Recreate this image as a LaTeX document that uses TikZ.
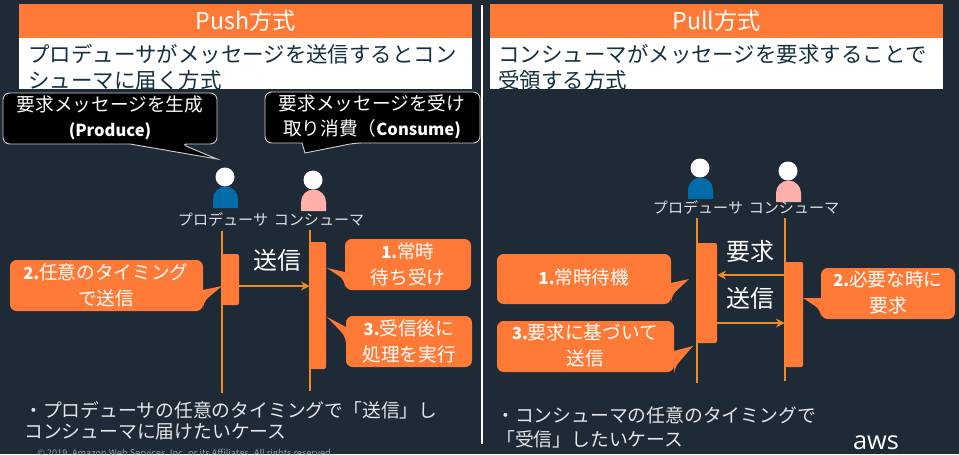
\documentclass[tikz,border=0pt]{standalone}
\usepackage{fontspec}
\setmainfont{Noto Sans CJK JP}
\newfontfamily\awsfont{Open Sans}
\usetikzlibrary{arrows.meta}
\definecolor{bgc}{HTML}{1F2A37}
\definecolor{orangeh}{HTML}{FE7A36}
\definecolor{lifec}{HTML}{F58A1F}
\definecolor{inkc}{HTML}{16303F}
\definecolor{blueb}{HTML}{006CA8}
\definecolor{pinkb}{HTML}{FFB0AB}
% name, style, x1,y1,x2,y2, text
\newcommand{\boxat}[7]{\node[#2,minimum width={(#5-#3)*0.75pt},minimum height={(#6-#4)*0.75pt}] (#1) at ({(#3+#5)/2},{(#4+#6)/2}) {#7};}
\newcommand{\latinb}[1]{{\fontsize{12.4}{19.5}\selectfont\bfseries #1}}
\tikzset{
 x=0.75pt,y=-0.75pt,
 header/.style={fill=orangeh,inner sep=0pt,text=white,font=\fontsize{17.4}{17.4}\selectfont},
 panel/.style={fill=white,inner sep=0pt},
 paneltext/.style={anchor=west,inner sep=0pt,text=inkc,font=\fontsize{16.1}{16.1}\selectfont},
 bubbleblack/.style={fill=black,draw=white!80!black,line width=0.7pt},
 bubbleorange/.style={fill=orangeh},
 bubbletext/.style={inner sep=0pt,align=center,text=white,font=\fontsize{14}{19}\selectfont},
 bubbletextb/.style={inner sep=0pt,align=center,text=white,font=\fontsize{14}{19.5}\selectfont},
 actor/.style={inner sep=0pt,text=white!85!bgc,font=\fontsize{11.3}{11.3}\selectfont},
 lifeline/.style={draw=lifec,line width=1.6pt},
 barbox/.style={fill=orangeh,rounded corners=1.5pt,inner sep=0pt},
 msg/.style={draw=lifec,line width=1.8pt,-{Stealth[length=6.5pt,width=6.5pt]}},
 msgtext/.style={inner sep=0pt,text=white,font=\fontsize{18}{18}\selectfont},
 notetext/.style={anchor=west,inner sep=0pt,text=white!88!bgc,font=\fontsize{14.1}{14.1}\selectfont},
 divider/.style={draw=white,line width=2.2pt},
}
\begin{document}
\begin{tikzpicture}
\useasboundingbox (0,0) rectangle (959,454);
\fill[bgc] (0,0) rectangle (959,454);

% headers and panels
\boxat{ph}{panel}{19}{38}{472}{89}{}
\boxat{qh}{panel}{490}{38}{943}{89}{}
\boxat{pushh}{header}{19}{4}{472}{38}{Push方式}
\boxat{pullh}{header}{490}{4}{943}{38}{Pull方式}
\node[paneltext] (pt1) at (28,54) {プロデューサがメッセージを送信するとコン};
\node[paneltext] (pt2) at (28,80) {シューマに届く方式};
\node[paneltext] (qt1) at (498,54) {コンシューマがメッセージを要求することで};
\node[paneltext] (qt2) at (498,80) {受領する方式};
\coordinate (d1) at (482,5); \coordinate (d2) at (482,444);
\draw[divider] (d1) -- (d2);

% black speech bubbles
\draw[bubbleblack,rounded corners=5pt] (130,144) -- (3,144) -- (3,93) -- (217,93) -- (217,144) -- (181,144) [sharp corners] -- (217,159) -- cycle;
\node[bubbletext] (b1) at (110,118) {要求メッセージを生成\\\latinb{(Produce)}};
\draw[bubbleblack,rounded corners=5pt] (302,143) -- (265,143) -- (265,92) -- (480,92) -- (480,143) -- (355,143) [sharp corners] -- (305,153) -- cycle;
\node[bubbletext] (b2) at (372,117) {要求メッセージを受け\\取り消費（\latinb{Consume)}};

% actors, left
\fill[white] (225,177) circle[radius=9.5];
\fill[blueb] (213,208) -- (213,199) arc[start angle=180,end angle=0,x radius=12.5,y radius=-12.5] -- (238,208) -- cycle;
\fill[white] (313,180) circle[radius=9.5];
\fill[pinkb] (301,211) -- (301,202) arc[start angle=180,end angle=0,x radius=12.5,y radius=-12.5] -- (326,211) -- cycle;
\node[actor] (pa) at (223,220) {プロデューサ};
\node[actor] (ca) at (319,220) {コンシューマ};
% actors, right
\fill[white] (700,168) circle[radius=9.5];
\fill[blueb] (688,199) -- (688,190) arc[start angle=180,end angle=0,x radius=12.5,y radius=-12.5] -- (713,199) -- cycle;
\fill[white] (788,171) circle[radius=9.5];
\fill[pinkb] (776,202) -- (776,193) arc[start angle=180,end angle=0,x radius=12.5,y radius=-12.5] -- (801,202) -- cycle;
\node[actor] (qa) at (698,208) {プロデューサ};
\node[actor] (ra) at (794,208) {コンシューマ};

% lifelines
\coordinate (l1a) at (222,231); \coordinate (l1b) at (222,393);
\coordinate (l2a) at (310,230); \coordinate (l2b) at (310,391);
\coordinate (l3a) at (697,218); \coordinate (l3b) at (697,383);
\coordinate (l4a) at (785,218); \coordinate (l4b) at (785,381);
\draw[lifeline] (l1a) -- (l1b);
\draw[lifeline] (l2a) -- (l2b);
\draw[lifeline] (l3a) -- (l3b);
\draw[lifeline] (l4a) -- (l4b);

% activation bars
\boxat{pbar}{barbox}{222}{254}{239}{305}{}
\boxat{cbar}{barbox}{310}{242}{326}{369}{}
\boxat{qbar}{barbox}{697}{243}{717}{343}{}
\boxat{rbar}{barbox}{785}{262}{803}{367}{}

% messages
\coordinate (m1) at (0,286); \coordinate (m2) at (0,275); \coordinate (m3) at (0,323);
\draw[msg] (pbar.east |- m1) -- (cbar.west |- m1);
\draw[msg] (rbar.west |- m2) -- (qbar.east |- m2);
\draw[msg] (qbar.east |- m3) -- (rbar.west |- m3);
\node[msgtext] (s1) at (277,260) {送信};
\node[msgtext] (s2) at (750,251) {要求};
\node[msgtext] (s3) at (750,298) {送信};

% orange bubbles, left
\fill[bubbleorange,rounded corners=5pt] (203,290) -- (203,260) -- (10,260) -- (10,311) -- (203,311) -- (203,302) [sharp corners] -- (222,286) -- cycle;
\node[bubbletextb] (o1) at (106,285) {\latinb{2.}任意のタイミング\\で送信};
\fill[bubbleorange,rounded corners=5pt] (345,272) -- (345,239) -- (471,239) -- (471,290) -- (345,290) -- (345,280) [sharp corners] -- (327,268) -- cycle;
\node[bubbletextb] (o2) at (408,264) {\latinb{1.}常時\\待ち受け};
\fill[bubbleorange,rounded corners=5pt] (346,327) -- (346,316) -- (472,316) -- (472,367) -- (346,367) -- (346,337) [sharp corners] -- (327,317) -- cycle;
\node[bubbletextb] (o3) at (409,341) {\latinb{3.}受信後に\\処理を実行};

% orange bubbles, right
\fill[bubbleorange,rounded corners=5pt] (671,283) -- (671,254) -- (497,254) -- (497,304) -- (671,304) -- (671,296) [sharp corners] -- (689,279) -- cycle;
\node[bubbletextb] (o4) at (584,277) {\latinb{1.}常時待機};
\fill[bubbleorange,rounded corners=5pt] (674,351) -- (674,321) -- (497,321) -- (497,372) -- (674,372) -- (674,368) [sharp corners] -- (693,346) -- cycle;
\node[bubbletextb] (o5) at (585,345) {\latinb{3.}要求に基づいて\\送信};
\fill[bubbleorange,rounded corners=5pt] (821,298) -- (821,268) -- (955,268) -- (955,319) -- (821,319) -- (821,310) [sharp corners] -- (803,298) -- cycle;
\node[bubbletextb] (o6) at (888,292) {\latinb{2.}必要な時に\\要求};

% notes
\node[notetext] (n1) at (24,410) {・プロデューサの任意のタイミングで「送信」し};
\node[notetext] (n2) at (24,432) {コンシューマに届けたいケース};
\node[notetext] (n3) at (496,415) {・コンシューマの任意のタイミングで};
\node[notetext] (n4) at (496,439) {「受信」したいケース};
\node[inner sep=0pt,anchor=west,text=white!55!bgc,font=\fontsize{6.9}{7}\selectfont] (cp) at (37,454) {© 2019, Amazon Web Services, Inc. or its Affiliates. All rights reserved.};
\node[inner sep=0pt,text=white,font=\awsfont\fontsize{19}{19}\selectfont] (aws) at (876,443) {aws};
\end{tikzpicture}
\end{document}
